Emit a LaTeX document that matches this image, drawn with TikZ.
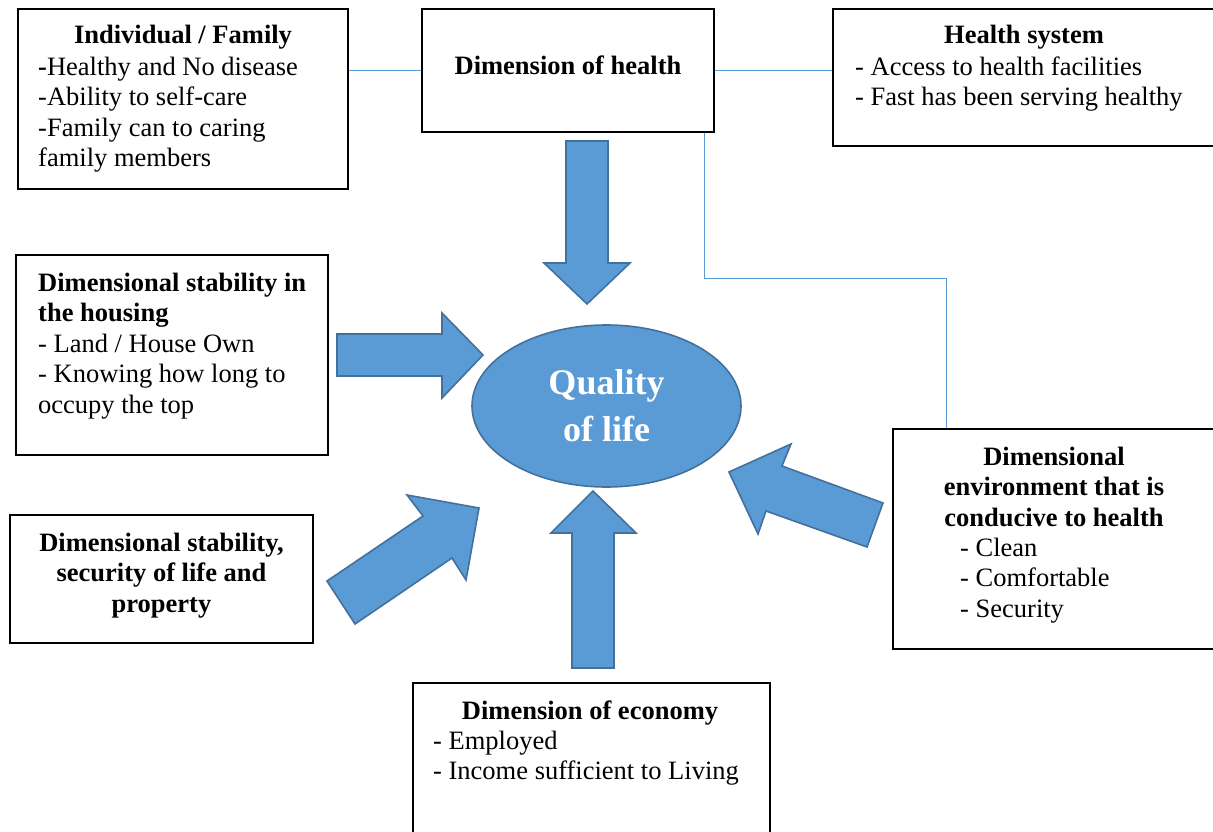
\documentclass[tikz,border=0pt]{standalone}
\usepackage{fontspec}
\setmainfont{Liberation Serif}
\usetikzlibrary{shapes.geometric,fit}
\definecolor{shapefill}{HTML}{5B9BD5}
\definecolor{shapeedge}{HTML}{41719C}
\definecolor{linkblue}{HTML}{5B9BD5}

\begin{document}
\begin{tikzpicture}[x=1pt,y=-1pt,
  box/.style={draw=black, line width=1.2pt, inner sep=0pt, rectangle},
  body/.style={inner sep=0pt, font=\fontsize{26.5}{30.5}\selectfont, align=left, anchor=north west},
  head/.style={inner sep=0pt, font=\fontsize{26.5}{30.5}\selectfont\bfseries, anchor=base},
  headc/.style={inner sep=0pt, font=\fontsize{26.5}{30.5}\selectfont\bfseries, align=center, anchor=north},
  link/.style={draw=linkblue, line width=1pt},
  fat/.style={fill=shapefill, draw=shapeedge, line width=1.6pt, line join=miter}]

\useasboundingbox (0,0) rectangle (1213,832);

% frames
\node[box, fit={(18,9)(348,189)}] (indiv) {};
\node[box, fit={(422,9)(714,132)}] (dh) {};
\node[box, fit={(833,9)(1215,146)}] (hs) {};
\node[box, fit={(16,255)(328,455)}] (house) {};
\node[box, fit={(10,515)(313,643)}] (secur) {};
\node[box, fit={(413,683)(770,845)}] (econ) {};
\node[box, fit={(893,429)(1215,649)}] (env) {};

% box texts
\node[head] (indivh) at (183,44) {Individual / Family};
\node[body] (indivb) at (38,53.65) {\strut\textbf{-}Healthy and No disease\\-Ability to self-care\\-Family can to caring\\family members};

\node[head] (dht) at (568,75) {Dimension of health};

\node[head] (hsh) at (1024,44) {Health system};
\node[body] (hsb) at (855,53.65) {\strut- Access to health facilities\\- Fast has been serving healthy};

\node[body] (houseb) at (38,269.65) {\strut\textbf{Dimensional stability in}\\\textbf{the housing}\\- Land / House Own\\- Knowing how long to\\occupy the top};

\node[headc] (securt) at (161.5,529.65) {\strut Dimensional stability,\\security of life and\\property};

\node[head] (econh) at (590,719) {Dimension of economy};
\node[body] (econb) at (433,727.65) {\strut- Employed\\- Income sufficient to Living};

\node[headc] (envh) at (1054,443.65) {\strut Dimensional\\environment that is\\conducive to health};
\node[body] (envb) at (960,534.65) {\strut- Clean\\- Comfortable\\- Security};

% thin links between frames
\draw[link] (indiv.east |- dh.west) -- (dh.west);
\draw[link] (dh.east) -- (hs.west |- dh.east);
\draw[link] ([xshift=-10pt]dh.south east) -- ++(0,146) -| ([xshift=-108pt]env.north);

% block arrows towards the centre
\filldraw[fat] (566,141) -- (608,141) -- (608,263) -- (630,263) -- (587,304) -- (544,263) -- (566,263) -- cycle;
\filldraw[fat] (337,334) -- (442,334) -- (442,313) -- (483,355) -- (442,398) -- (442,376) -- (337,376) -- cycle;
\filldraw[fat] (327,581) -- (423,516) -- (407,495) -- (479,508) -- (466,580) -- (452,558) -- (355,624) -- cycle;
\filldraw[fat] (572,668) -- (572,533) -- (551,533) -- (593,491) -- (636,533) -- (614,533) -- (614,668) -- cycle;
\filldraw[fat] (883,503) -- (782,466) -- (791,444) -- (729,472) -- (758,534) -- (766,511) -- (867,547) -- cycle;

% centre
\node[ellipse, fill=shapefill, draw=shapeedge, line width=1.6pt, inner sep=0pt,
      minimum width=269pt, minimum height=162pt, text=white, align=center,
      font=\fontsize{36}{47}\selectfont\bfseries] (qol) at (606.5,406) {Quality\\of life};
\end{tikzpicture}
\end{document}
